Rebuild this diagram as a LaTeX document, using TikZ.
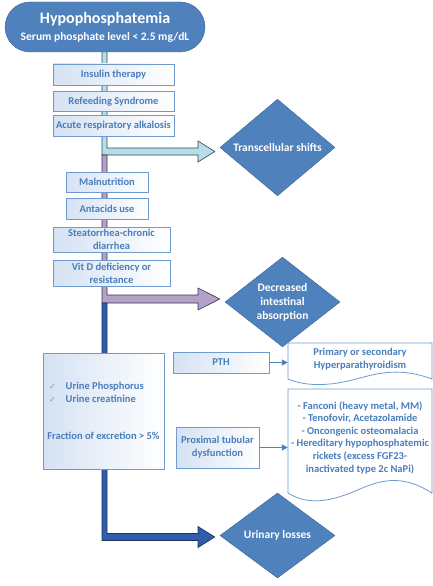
\documentclass[tikz,border=0pt]{standalone}
\usepackage{fontspec}
\setmainfont{Carlito}
\newfontfamily\symfont{DejaVu Sans}
\usetikzlibrary{shapes.geometric,arrows.meta,calc}
\definecolor{mainblue}{HTML}{4F81BD}
\definecolor{darkedge}{HTML}{3A6595}
\definecolor{boxedge}{HTML}{6F9AD0}
\definecolor{boxfill}{HTML}{D5E2F3}
\definecolor{txtblue}{HTML}{4A7EBB}
\definecolor{lbfill}{HTML}{B7DEE8}
\definecolor{lbedge}{HTML}{2B4C57}
\definecolor{pufill}{HTML}{B3A2C7}
\definecolor{puedge}{HTML}{3F3151}
\definecolor{dbfill}{HTML}{2F5DA8}
\definecolor{dbedge}{HTML}{1B355E}
\definecolor{chkgray}{HTML}{8497B0}
\newcommand{\chk}{{\symfont\mdseries\fontsize{8}{8}\selectfont\textcolor{chkgray}{✓}}}
\begin{document}
\begin{tikzpicture}[x=1pt,y=-1pt,
  cbox/.style={draw=boxedge, line width=0.8pt, left color=boxfill, right color=white,
    text=txtblue, font=\fontsize{10.5}{13}\selectfont\bfseries, align=center, inner sep=0pt},
  dia/.style={diamond, fill=mainblue, draw=darkedge, line width=0.4pt, text=white,
    font=\fontsize{11.5}{14}\selectfont\bfseries, align=center, inner sep=0pt},
  doctext/.style={text=txtblue, font=\fontsize{10.5}{12.6}\selectfont\bfseries, align=center, inner sep=0pt},
  docshape/.style={draw=boxedge, line width=0.8pt, fill=white},
  thinarrow/.style={draw=mainblue, line width=1.2pt, -{Triangle[length=6pt,width=6pt]}},
  lbpipe/.style={fill=lbfill, draw=lbedge, line width=0.6pt},
  pupipe/.style={fill=pufill, draw=puedge, line width=0.6pt},
  dbpipe/.style={fill=dbfill, draw=dbedge, line width=0.6pt}]
\useasboundingbox (0,0) rectangle (433,586);

% diamonds
\node[dia, minimum width=115pt, minimum height=85pt] (trans) at (277.5,147.5) {Transcellular shifts};
\node[dia, minimum width=115pt, minimum height=80pt] (decr) at (282.5,302) {Decreased\\intestinal\\absorption};
\node[dia, minimum width=115pt, minimum height=85pt] (urin) at (277.5,535.5) {Urinary losses};

% pipes (block arrows)
\coordinate (t1) at ($(trans.west)+(-5,4)$);
\coordinate (t2) at ($(decr.west)+(-5,-3)$);
\coordinate (t3) at ($(urin.west)+(-5,1.5)$);
\draw[lbpipe] (102,45) -- (102,155) -- (198,155) -- (198,162) -- (t1) -- (198,141) -- (198,148) -- (107,148) -- (107,45) -- cycle;
\draw[pupipe] (102,155) -- (102,303) -- (198,303) -- (198,310) -- (t2) -- (198,288) -- (198,295) -- (107,295) -- (107,155) -- cycle;
\draw[dbpipe] (102,303) -- (102,540.5) -- (198,540.5) -- (198,547.5) -- (t3) -- (198,526.5) -- (198,533.5) -- (107,533.5) -- (107,303) -- cycle;

% title
\node[fill=mainblue, draw=darkedge, line width=0.4pt, rounded corners=25pt,
  minimum width=200pt, minimum height=50pt, inner sep=0pt, text=white, align=center] (title) at (105,27)
  {{\fontsize{16}{16}\selectfont\bfseries Hypophosphatemia}\\[5pt]{\fontsize{11.5}{12}\selectfont\bfseries Serum phosphate level < 2.5 mg/dL}};

% cause boxes
\node[cbox, minimum width=121pt, minimum height=21pt] (ins) at (113.5,74.5) {Insulin therapy};
\node[cbox, minimum width=121pt, minimum height=20pt] (ref) at (113.5,101.5) {Refeeding Syndrome};
\node[cbox, minimum width=121pt, minimum height=21pt] (acu) at (113.5,126) {Acute respiratory alkalosis};
\node[cbox, minimum width=82pt, minimum height=20pt] (mal) at (107,182) {Malnutrition};
\node[cbox, minimum width=82pt, minimum height=21pt] (ant) at (107,208.5) {Antacids use};
\node[cbox, minimum width=117pt, minimum height=25pt] (ste) at (111.5,239.5) {Steatorrhea-chronic\\diarrhea};
\node[cbox, minimum width=117pt, minimum height=26pt] (vit) at (111.5,273) {Vit D deficiency or\\resistance};

\node[cbox, minimum width=121pt, minimum height=116pt] (big) at (103.5,411)
  {\makebox[115pt][l]{\hspace{3pt}\chk\hspace{10pt}Urine Phosphorus}\\
   \makebox[115pt][l]{\hspace{3pt}\chk\hspace{10pt}Urine creatinine}\\[24pt]
   Fraction of excretion > 5\%};

\node[cbox, minimum width=96pt, minimum height=21pt] (pth) at (221,362.5) {PTH};
\node[cbox, minimum width=83pt, minimum height=41pt] (prox) at (217.5,447.5) {Proximal tubular\\dysfunction};

% document shapes
\draw[docshape] (288,343) -- (432,343) -- (432,379) .. controls (405,369) and (385,371) .. (360,378)
  .. controls (335,385) and (310,388) .. (288,379) -- cycle;
\node[doctext, minimum width=144pt, minimum height=36pt] (hyp) at (360,359)
  {\fontsize{10.5}{11.5}\selectfont Primary or secondary\\Hyperparathyroidism};
\draw[docshape] (288,389) -- (432,389) -- (432,493) .. controls (405,476) and (385,478) .. (360,489)
  .. controls (335,500) and (310,507) .. (288,493) -- cycle;
\node[doctext, minimum width=144pt, minimum height=104pt] (fan) at (360,437.5)
  {- Fanconi (heavy metal, MM)\\- Tenofovir, Acetazolamide\\- Oncongenic osteomalacia\\- Hereditary hypophosphatemic\\rickets (excess FGF23-\\inactivated type 2c NaPi)};

% thin arrows
\draw[thinarrow] (pth.east) -- (hyp.west |- pth.east);
\draw[thinarrow] (prox.east) -- (fan.west |- prox.east);
\end{tikzpicture}
\end{document}
